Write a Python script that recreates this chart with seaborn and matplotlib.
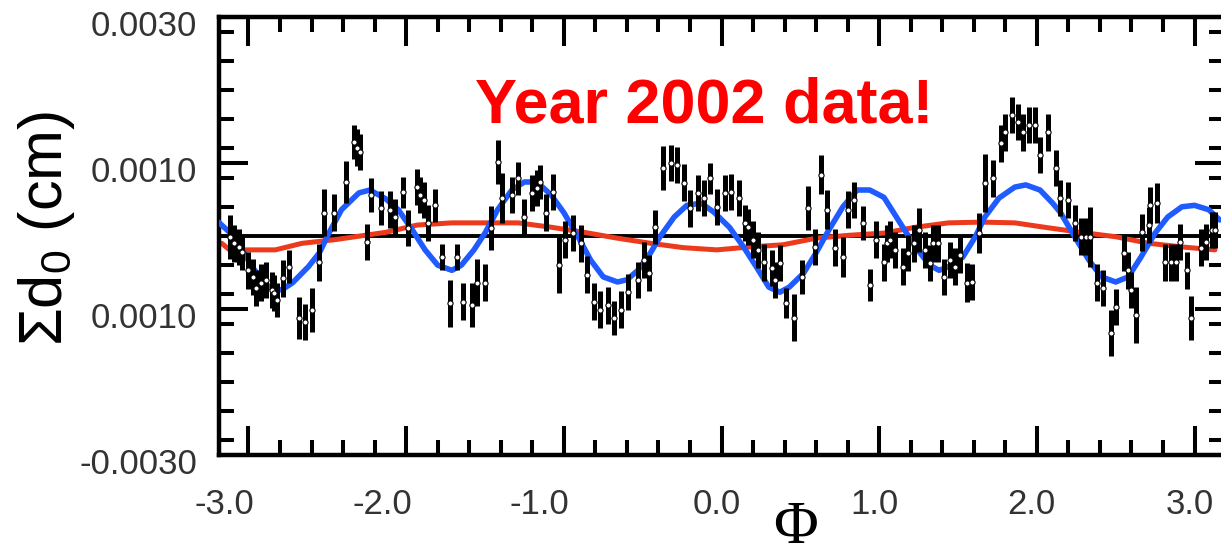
import numpy as np
import pandas as pd
import seaborn as sns
import matplotlib.pyplot as plt
from matplotlib.ticker import MultipleLocator, FixedLocator
from matplotlib.transforms import ScaledTranslation

# ==========================================
# data (sigma values in units of 1e-4 cm)
# ==========================================
phi = [
    -3.12, -3.09, -3.06, -3.04, -3.00, -2.97, -2.95, -2.92, -2.89, -2.85,
    -2.84, -2.82, -2.78, -2.74, -2.68, -2.64, -2.60, -2.55, -2.52, -2.46,
    -2.38, -2.33, -2.31, -2.29, -2.25, -2.22, -2.16, -2.10, -2.07, -2.02,
    -1.99, -1.93, -1.91, -1.89, -1.86, -1.82, -1.77, -1.72, -1.68, -1.64,
    -1.58, -1.55, -1.50, -1.46, -1.42, -1.39, -1.33, -1.29, -1.25, -1.20,
    -1.17, -1.15, -1.11, -1.07, -1.03, -0.99, -0.94, -0.89, -0.85, -0.81,
    -0.77, -0.72, -0.68, -0.64, -0.59, -0.53, -0.49, -0.46, -0.42, -0.37,
    -0.32, -0.28, -0.24, -0.20, -0.15, -0.11, -0.07, -0.03, 0.02, 0.06,
    0.11, 0.15, 0.17, 0.20, 0.23, 0.27, 0.32, 0.34, 0.37, 0.41,
    0.46, 0.51, 0.55, 0.59, 0.63, 0.67, 0.72, 0.77, 0.80, 0.84,
    0.90, 0.94, 0.98, 1.03, 1.05, 1.07, 1.10, 1.15, 1.18, 1.22,
    1.25, 1.29, 1.32, 1.34, 1.37, 1.41, 1.45, 1.48, 1.51, 1.56,
    1.59, 1.63, 1.67, 1.72, 1.77, 1.80, 1.84, 1.88, 1.91, 1.95,
    1.99, 2.02, 2.07, 2.12, 2.15, 2.20, 2.24, 2.28, 2.31, 2.34,
    2.38, 2.42, 2.47, 2.50, 2.55, 2.58, 2.60, 2.63, 2.67, 2.71,
    2.72, 2.76, 2.81, 2.85, 2.88, 2.91, 2.95, 2.98, 3.04, 3.07,
    3.11, 3.13,
]
sigma = [
    -0.1, -1.0, -1.5, -2.2, -4.7, -5.6, -7.1, -6.4, -6.0, -7.4,
    -7.8, -8.8, -5.8, -4.2, -11.2, -11.8, -10.1, -3.6, 3.2, 3.2,
    7.4, 12.9, 12.1, 11.5, -0.8, 5.6, 3.8, 3.6, 2.6, 6.0,
    1.1, 6.7, 5.6, 4.9, 1.8, 4.2, -2.9, -9.2, -2.9, -9.0,
    -9.5, -6.4, -6.4, 1.1, 10.1, 5.2, 5.6, 7.9, 2.6, 5.9,
    6.6, 7.4, 3.2, 6.0, -4.0, -0.5, 0.4, -1.0, -5.3, -9.0,
    -10.1, -9.5, -11.2, -10.1, -7.7, -6.0, -3.3, -5.1, 1.2, 9.3,
    10.0, 9.7, 7.3, 3.8, 5.9, 5.2, 7.9, 4.0, 5.9, 6.0,
    5.2, 1.8, 1.2, -0.5, -1.9, -3.6, -4.4, -6.0, -3.7, -9.2,
    -11.2, -5.6, 3.8, -1.5, 8.4, 3.6, -1.6, -2.9, 3.6, 4.9,
    1.8, -6.7, -0.5, -3.6, -1.0, -0.5, -1.9, -4.2, -2.3, -1.0,
    0.8, -1.9, -3.7, -1.0, -1.0, -5.6, -3.3, -4.2, -2.6, -6.4,
    -6.3, 0.4, 7.3, 7.9, 12.7, 14.2, 16.6, 15.6, 14.2, 15.2,
    15.2, 11.1, 14.2, 9.3, 5.2, 4.9, 1.8, -0.1, -0.1, -0.1,
    -6.4, -7.1, -13.3, -9.7, -2.3, -4.7, -7.4, -10.8, 0.5, 1.5,
    4.2, 4.5, -3.6, -3.6, -3.6, -0.8, -4.7, -11.2, -1.6, -0.8,
    0.8, 0.8,
]
sigma_err = [
    3.0, 2.5, 2.5, 2.5, 2.5, 2.5, 2.5, 2.5, 2.5, 2.5,
    2.5, 2.3, 2.5, 2.3, 2.9, 2.5, 3.0, 2.5, 3.2, 2.5,
    2.9, 2.3, 2.5, 2.5, 2.5, 2.3, 2.3, 2.5, 2.5, 2.1,
    2.5, 2.5, 2.5, 2.5, 2.5, 2.3, 1.8, 3.2, 1.8, 2.5,
    3.0, 3.2, 2.5, 3.0, 3.0, 3.4, 2.5, 2.3, 2.5, 2.5,
    2.5, 2.3, 2.5, 2.5, 3.8, 2.5, 2.5, 2.5, 2.5, 2.5,
    2.5, 2.5, 2.3, 2.5, 2.5, 2.5, 2.5, 2.5, 2.3, 3.0,
    2.5, 2.5, 2.5, 2.5, 2.5, 2.5, 2.1, 2.5, 2.5, 2.5,
    2.5, 2.5, 2.5, 2.5, 2.5, 2.5, 2.5, 2.5, 2.5, 2.1,
    3.2, 2.3, 3.0, 2.5, 2.7, 2.7, 2.5, 2.7, 2.5, 2.5,
    2.3, 2.2, 2.5, 2.5, 2.5, 2.5, 2.5, 2.5, 2.5, 2.5,
    3.0, 2.5, 2.5, 2.5, 2.5, 2.5, 2.5, 2.5, 2.5, 2.7,
    2.5, 2.7, 4.0, 2.5, 2.5, 2.5, 2.5, 2.5, 2.5, 2.5,
    2.5, 2.5, 2.5, 2.5, 2.5, 2.5, 2.5, 2.5, 2.5, 4.1,
    2.5, 2.5, 3.2, 2.5, 2.5, 2.5, 2.5, 3.8, 2.5, 2.5,
    2.5, 2.7, 2.5, 2.5, 2.5, 2.5, 2.5, 3.0, 2.5, 2.5,
    2.5, 2.5,
]

# blue fit curve
fit_phi = [
    -3.19, -3.12, -3.06, -2.98, -2.87, -2.79, -2.72, -2.62, -2.55, -2.49,
    -2.41, -2.30, -2.23, -2.13, -2.05, -1.96, -1.88, -1.80, -1.71, -1.65,
    -1.57, -1.50, -1.42, -1.33, -1.25, -1.17, -1.08, -1.00, -0.91, -0.83,
    -0.75, -0.66, -0.60, -0.53, -0.45, -0.39, -0.30, -0.22, -0.13, -0.05,
    0.05, 0.14, 0.22, 0.30, 0.37, 0.43, 0.52, 0.60, 0.68, 0.77,
    0.86, 0.94, 1.03, 1.08, 1.15, 1.23, 1.32, 1.38, 1.44, 1.53,
    1.61, 1.67, 1.76, 1.86, 1.93, 2.02, 2.10, 2.15, 2.24, 2.33,
    2.41, 2.50, 2.58, 2.66, 2.75, 2.83, 2.92, 3.00, 3.09, 3.16,
]
fit_sigma = [
    1.9, 0.5, -1.0, -4.2, -7.0, -7.4, -6.4, -4.2, -2.3, 0.4,
    3.6, 5.9, 6.3, 5.1, 3.6, 0.8, -1.9, -4.0, -4.7, -4.0,
    -1.9, 0.4, 3.6, 6.3, 7.4, 7.4, 5.6, 3.2, -0.1, -3.3,
    -5.6, -6.3, -6.0, -4.7, -2.3, -0.1, 2.6, 4.2, 4.5, 3.3,
    1.2, -1.5, -4.2, -7.0, -7.7, -7.0, -5.1, -2.3, 0.8, 4.0,
    6.3, 6.3, 5.3, 3.6, 1.2, -1.5, -4.0, -4.7, -4.2, -2.9,
    -0.1, 2.6, 5.2, 6.7, 7.0, 6.3, 4.5, 3.2, -0.1, -3.3,
    -5.6, -6.3, -5.6, -2.9, 0.4, 2.6, 4.0, 4.2, 3.6, 2.2,
]

# red slow curve
slow_phi = [
    -3.17, -3.12, -2.83, -2.66, -2.45, -2.26, -2.13, -1.93, -1.71, -1.50,
    -1.29, -1.08, -0.87, -0.66, -0.45, -0.24, -0.03, 0.18, 0.39, 0.60,
    0.81, 1.03, 1.23, 1.44, 1.65, 1.86, 2.08, 2.28, 2.50, 2.71,
    2.92, 3.13,
]
slow_sigma = [
    -1.0, -1.9, -1.9, -1.0, -0.5, 0.1, 0.5, 1.5, 1.8, 1.8,
    1.8, 1.2, 0.5, -0.3, -1.0, -1.6, -1.9, -1.5, -1.2, -0.3,
    0.1, 0.4, 1.2, 1.8, 1.9, 1.8, 1.1, 0.5, -0.1, -1.0,
    -1.5, -1.9,
]

xtick_vals = [-3, -2, -1, 0, 1, 2, 3]
xtick_labels = ['-3.0', '-2.0', '-1.0', '0.0', '1.0', '2.0', '3.0']
ytick_vals = [-0.003, -0.001, 0.001, 0.003]
ytick_labels = ['-0.0030', '0.0010', '0.0010', '0.0030']

UNIT = 1e-4
df = pd.DataFrame({'phi': phi, 'sigma': np.array(sigma) * UNIT,
                   'err': np.array(sigma_err) * UNIT})
df_fit = pd.DataFrame({'phi': fit_phi, 'sigma': np.array(fit_sigma) * UNIT})
df_slow = pd.DataFrame({'phi': slow_phi, 'sigma': np.array(slow_sigma) * UNIT})

# ==========================================
# style
# ==========================================
sns.set_theme(style="ticks")
plt.rcParams['font.family'] = ['Liberation Sans', 'DejaVu Sans']
plt.rcParams['mathtext.default'] = 'regular'

W, H = 1221, 554
fig = plt.figure(figsize=(W / 100, H / 100), dpi=100)
ax = fig.add_axes([219 / W, 99 / H, 1005 / W, 438 / H])

ax.axhline(0, color='black', lw=2.8, zorder=1)
sns.lineplot(data=df_slow, x='phi', y='sigma', color='#ec3a1c', lw=3.6, ax=ax, zorder=2)
sns.lineplot(data=df_fit, x='phi', y='sigma', color='#1f5bff', lw=4.0, ax=ax, zorder=3)
ax.errorbar(df['phi'], df['sigma'], yerr=df['err'], fmt='none', ecolor='black',
            elinewidth=3.6, capsize=0, zorder=4)
sns.scatterplot(data=df, x='phi', y='sigma', marker='o', s=14, color='white',
                edgecolor='black', linewidth=0.8, ax=ax, zorder=5)

ax.set_xlim(-3.187, 3.187)
ax.set_ylim(-0.003, 0.003)

ax.xaxis.set_major_locator(FixedLocator(xtick_vals))
ax.set_xticklabels(xtick_labels)
ax.xaxis.set_minor_locator(MultipleLocator(0.2))
ax.yaxis.set_major_locator(FixedLocator(ytick_vals))
ax.set_yticklabels(ytick_labels)
ax.yaxis.set_minor_locator(MultipleLocator(0.0004))

ax.tick_params(which='both', direction='in', top=True, right=True, width=2.9, color='black')
ax.tick_params(which='major', length=21)
ax.tick_params(which='minor', length=11)
ax.tick_params(axis='x', which='major', labelsize=25, pad=23.5, labelcolor='#333333')
ax.tick_params(axis='y', which='major', labelsize=25, pad=15.5, labelcolor='#333333')

for s in ax.spines.values():
    s.set_linewidth(3.2)
    s.set_color('black')

# nudge the tick labels like the original
for lbl in ax.get_xticklabels():
    dx = -24 if lbl.get_text().startswith('-') else -5
    lbl.set_transform(lbl.get_transform() + ScaledTranslation(dx / 100, 0, fig.dpi_scale_trans))
for lbl in ax.get_yticklabels():
    lbl.set_transform(lbl.get_transform() + ScaledTranslation(0, -6 / 100, fig.dpi_scale_trans))

ax.set_ylabel('Σd$_0$ (cm)', fontsize=44, color='black', ha='center', va='center')
ax.yaxis.set_label_coords(-0.172, 0.517)
ax.set_xlabel('Φ', fontsize=44, color='black', family=['Liberation Serif', 'DejaVu Serif'],
              va='baseline')
ax.xaxis.set_label_coords(0.574, -0.200)

ax.text(-0.111, 0.00156, 'Year 2002 data!', color='#ff0000', fontsize=45.4,
        fontweight='bold', ha='center', va='baseline', zorder=6)

fig.savefig('out.png', dpi=100)
